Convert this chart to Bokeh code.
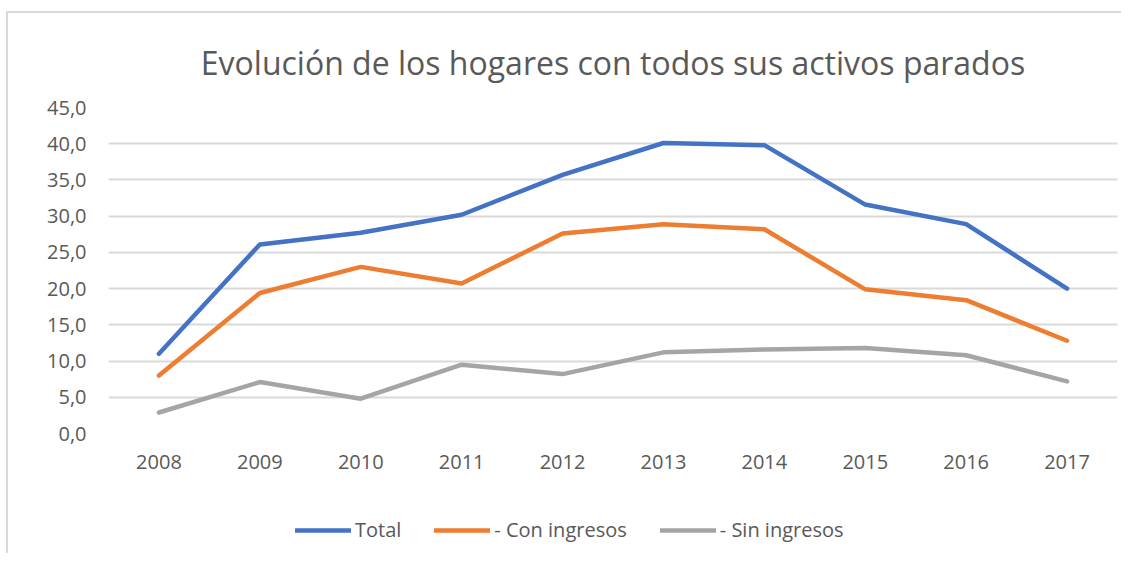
from bokeh.plotting import figure
from bokeh.models import FixedTicker, Legend, LegendItem, Range1d, FactorRange
from bokeh.layouts import column
from bokeh.embed import file_html
from bokeh.resources import INLINE

# ---- data ----
years = ["2008", "2009", "2010", "2011", "2012", "2013", "2014", "2015", "2016", "2017"]
total = [11.0, 26.1, 27.7, 30.2, 35.7, 40.1, 39.8, 31.6, 28.9, 20.0]
con_ingresos = [8.0, 19.4, 23.0, 20.7, 27.6, 28.9, 28.2, 19.9, 18.4, 12.8]
sin_ingresos = [2.9, 7.1, 4.8, 9.5, 8.2, 11.2, 11.6, 11.8, 10.8, 7.2]
series_names = ["Total", "- Con ingresos", "- Sin ingresos"]
y_ticks = [0, 5, 10, 15, 20, 25, 30, 35, 40, 45]
y_tick_labels = ["0,0", "5,0", "10,0", "15,0", "20,0", "25,0", "30,0", "35,0", "40,0", "45,0"]
title_text = "Evolución de los hogares con todos sus activos parados"

# ---- styles ----
colors = ["#4472C4", "#ED7D31", "#A5A5A5"]
text_color = "#595959"
font = "Open Sans"
series = [total, con_ingresos, sin_ingresos]

p = figure(
    width=1113, height=470,
    x_range=FactorRange(*years, range_padding=0),
    y_range=Range1d(0, 45),
    output_backend="svg", toolbar_location=None,
    min_border_left=100, min_border_right=4, min_border_top=94, min_border_bottom=50,
)
p.outline_line_color = None

p.title.text = title_text
p.title.text_font = font
p.title.text_font_size = "32px"
p.title.text_font_style = "normal"
p.title.text_color = text_color
p.title.align = "center"
p.title.standoff = 47

for vals, col in zip(series, colors):
    p.line(years, vals, line_color=col, line_width=4.5,
           line_join="round", line_cap="round")

p.xgrid.grid_line_color = None
p.ygrid.grid_line_color = "#d9d9d9"
p.ygrid.grid_line_width = 2

p.yaxis.ticker = FixedTicker(ticks=y_ticks)
p.yaxis.major_label_overrides = {t: l for t, l in zip(y_ticks, y_tick_labels)}
for ax in (p.xaxis[0], p.yaxis[0]):
    ax.axis_line_color = None
    ax.major_tick_line_color = None
    ax.minor_tick_line_color = None
    ax.major_label_text_font = font
    ax.major_label_text_font_size = "20px"
    ax.major_label_text_color = text_color
p.yaxis.major_label_standoff = 16
p.xaxis.major_label_standoff = 15

# ---- legend strip (same series, legend only) ----
lg = figure(
    width=1113, height=70, title=None,
    x_range=FactorRange(*years, range_padding=0),
    y_range=Range1d(1000, 1001),
    x_axis_location=None, y_axis_location=None,
    output_backend="svg", toolbar_location=None, min_border=0,
)
lg.outline_line_color = None
lg.grid.visible = False
leg_renderers = []
for vals, col in zip(series, colors):
    leg_renderers.append(lg.line(years, vals, line_color=col, line_width=4.5, line_cap="round"))

legend = Legend(
    items=[LegendItem(label=n, renderers=[r]) for n, r in zip(series_names, leg_renderers)],
    orientation="horizontal",
    location=(187, 10),
    glyph_width=56, glyph_height=20,
    label_standoff=4, spacing=33, padding=0, margin=0,
    label_text_font=font, label_text_font_size="20px", label_text_color=text_color,
    border_line_color=None, background_fill_alpha=0,
)
lg.add_layout(legend)

layout = column(p, lg, margin=(11, 0, 0, 6),
                styles={"border-left": "2px solid #d9d9d9", "border-top": "2px solid #d9d9d9"})

open("out.html", "w").write(file_html(layout, INLINE))
